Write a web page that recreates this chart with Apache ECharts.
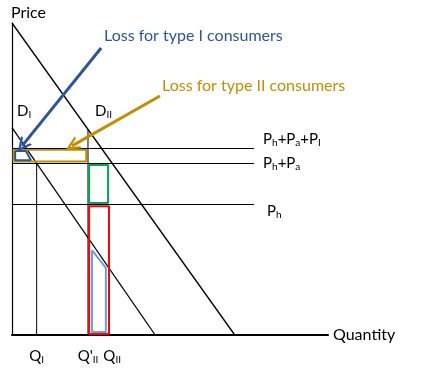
<!DOCTYPE html>
<html>
<head>
<meta charset="utf-8">
<script src="https://cdn.jsdelivr.net/npm/echarts@6/dist/echarts.min.js"></script>
<style>
html,body{margin:0;padding:0;background:#fff;}
#c{width:446px;height:377px;}
</style>
</head>
<body>
<div id="c"></div>
<script>
// ---- data (abstract price/quantity units, 0..100) ----
const demandI = [[0, 66.5], [45.3, 0]];
const demandII = [[0, 100], [70.5, 0]];
const priceLevels = [60, 55, 42];
const priceLabels = ['{m|P}{s|h}{m|+P}{s|a}{m|+P}{s|I}', '{m|P}{s|h}{m|+P}{s|a}', '{m|P}{s|h}'];
const priceLineEnd = 76.6;
const quantityTicks = [7.8, 24.05, 31.7];
const quantityLabels = ['{m|Q}{s|I}', "{m|Q'}{s|II}", '{m|Q}{s|II}'];
const qIVertical = [[7.8, 0], [7.8, 55]];
const qIIVertical = [[24.05, 0], [24.05, 65.9]];
const lossIsmall = [[1, 59], [4.4, 59], [6, 56], [1, 56], [1, 59]];
const lossIIrect = [[0.5, 55.6], [23.5, 55.6], [23.5, 59.4], [0.5, 59.4], [0.5, 55.6]];
const greenRect = [[24.4, 42.3], [30.4, 42.3], [30.4, 54.5], [24.4, 54.5], [24.4, 42.3]];
const redRect = [[24.4, 0.3], [30.7, 0.3], [30.7, 41.3], [24.4, 41.3], [24.4, 0.3]];
const lossIbig = [[25.3, 27.2], [29.7, 21.5], [29.7, 1], [25.3, 1], [25.3, 27.2]];
const arrowI = [[28.2, 92], [3.2, 60.6]];
const arrowII = [[46.8, 76.6], [19.0, 60.6]];

const FONT = 'Lato';
const richP = {
  m: { fontSize: 15, fontFamily: FONT, color: '#000' },
  s: { fontSize: 10, fontFamily: FONT, color: '#000', padding: [7, 0, 0, 0] }
};
const chevron = 'path://M0,10 L5,0 L10,10 L8.2,10 L5,3.6 L1.8,10 Z';

function seg(data, color, width) {
  return { type: 'line', data: data, symbol: 'none', silent: true, animation: false,
    lineStyle: { color: color, width: width }, z: 3 };
}

const chart = echarts.init(document.getElementById('c'), null, { renderer: 'canvas' });
chart.setOption({
  animation: false,
  backgroundColor: '#fff',
  grid: { left: 12, top: 23, width: 316, height: 312 },
  xAxis: {
    type: 'value', min: 0, max: 100,
    name: 'Quantity', nameLocation: 'end', nameGap: 5,
    nameTextStyle: { fontSize: 16, fontFamily: FONT, color: '#000', padding: [0, 0, 3, 0] },
    axisLine: { show: true, onZero: false, lineStyle: { color: '#000', width: 2 } },
    axisTick: { show: false },
    splitLine: { show: false },
    axisLabel: {
      show: true, customValues: quantityTicks, margin: 13,
      formatter: function (v) {
        const i = quantityTicks.indexOf(v);
        return i >= 0 ? quantityLabels[i] : '';
      },
      rich: richP
    }
  },
  yAxis: {
    type: 'value', min: 0, max: 100,
    name: 'Price', nameLocation: 'end', nameGap: 3,
    nameTextStyle: { fontSize: 16, fontFamily: FONT, color: '#000', align: 'left', padding: [0, 0, -1, -1] },
    axisLine: { show: true, onZero: false, lineStyle: { color: '#000', width: 1.2 } },
    axisTick: { show: false },
    splitLine: { show: false },
    axisLabel: { show: false }
  },
  series: [
    seg(demandI, '#000', 1.3),
    seg(demandII, '#000', 1.3),
    seg(qIVertical, '#000', 1),
    seg(qIIVertical, '#000', 1),
    seg(lossIIrect, '#bf9000', 2),
    seg(greenRect, '#00a650', 2),
    seg(redRect, '#ff0000', 2),
    seg(lossIbig, '#6d9eda', 2),
    seg(lossIsmall, '#2e5596', 2),
    {
      type: 'line', data: [], symbol: 'none', silent: true, animation: false,
      markLine: {
        silent: true, animation: false,
        symbol: ['none', 'none'],
        lineStyle: { color: '#000', width: 1, type: 'solid' },
        label: { show: true, position: 'end', distance: 9, rich: richP, color: '#000' },
        data: priceLevels.map(function (p, i) {
          const offs = [[0, -9], [0, 0], [4, 7]][i];
          return [
            { coord: [0, p] },
            { coord: [priceLineEnd, p], label: { formatter: priceLabels[i], offset: offs } }
          ];
        })
      }
    },
    {
      type: 'line', data: [], symbol: 'none', silent: true, animation: false, z: 5,
      markLine: {
        silent: true, animation: false,
        symbol: ['none', chevron], symbolSize: 14,
        label: { show: false },
        data: [
          [{ coord: arrowI[0], lineStyle: { color: '#2e5596', width: 3, type: 'solid' }, itemStyle: { color: '#2e5596' } },
           { coord: arrowI[1], itemStyle: { color: '#2e5596' } }],
          [{ coord: arrowII[0], lineStyle: { color: '#bf9000', width: 3, type: 'solid' }, itemStyle: { color: '#bf9000' } },
           { coord: arrowII[1], itemStyle: { color: '#bf9000' } }]
        ]
      }
    }
  ],
  graphic: [
    { type: 'text', left: 104, top: 28, style: { text: 'Loss for type I consumers', fontSize: 16, fontFamily: FONT, fill: '#2e5596' } },
    { type: 'text', left: 162, top: 78, style: { text: 'Loss for type II consumers', fontSize: 16, fontFamily: FONT, fill: '#bf9000' } },
    { type: 'text', left: 17, top: 104, style: { text: '{m|D}{s|I}', rich: richP } },
    { type: 'text', left: 95, top: 104, style: { text: '{m|D}{s|II}', rich: richP } }
  ]
});
</script>
</body>
</html>
